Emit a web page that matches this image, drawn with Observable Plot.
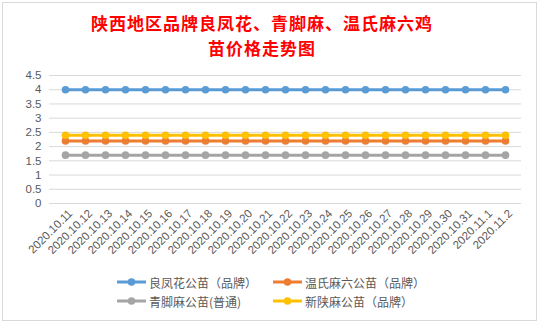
<!DOCTYPE html>
<html>
<head>
<meta charset="utf-8">
<script src="https://cdn.jsdelivr.net/npm/d3@7"></script>
<script src="https://cdn.jsdelivr.net/npm/@observablehq/plot@0.6"></script>
<style>
  html, body { margin: 0; padding: 0; background: #fff; }
  #wrap { position: relative; width: 539px; height: 323px; overflow: hidden; background: #fff; font-family: "Liberation Sans", Arial, sans-serif; }
  #frame { position: absolute; left: 2px; top: 2px; width: 533px; height: 317px; border: 1px solid #d9d9d9; box-sizing: content-box; }
  .title { position: absolute; left: 1px; width: 522px; text-align: center; color: #ff0000; font-family: "Noto Sans CJK SC", sans-serif; font-weight: bold; font-size: 17px; letter-spacing: 1px; line-height: normal; white-space: nowrap; }
  #chart { position: absolute; left: 0; top: 60px; }
  .leg { position: absolute; display: flex; align-items: center; font-family: "Noto Sans CJK SC", sans-serif; font-size: 12px; color: #595959; white-space: nowrap; }
  .leg svg { margin-right: 3px; }
</style>
</head>
<body>
<div id="wrap">
  <div id="frame"></div>
  <div class="title" style="top:10px">陕西地区品牌良凤花、青脚麻、温氏麻六鸡</div>
  <div class="title" style="top:35px">苗价格走势图</div>
  <div id="chart"></div>
  <div id="legend"></div>
</div>
<script>
const dates = ["2020.10.11","2020.10.12","2020.10.13","2020.10.14","2020.10.15","2020.10.16","2020.10.17","2020.10.18","2020.10.19","2020.10.20","2020.10.21","2020.10.22","2020.10.23","2020.10.24","2020.10.25","2020.10.26","2020.10.27","2020.10.28","2020.10.29","2020.10.30","2020.10.31","2020.11.1","2020.11.2"];
const seriesNames = ["良凤花公苗（品牌）","温氏麻六公苗（品牌）","青脚麻公苗(普通)","新陕麻公苗（品牌）"];
const seriesColors = ["#5b9bd5","#ed7d31","#a5a5a5","#ffc000"];
const liangfenghua = [4,4,4,4,4,4,4,4,4,4,4,4,4,4,4,4,4,4,4,4,4,4,4];
const wenshimaliu = [2.2,2.2,2.2,2.2,2.2,2.2,2.2,2.2,2.2,2.2,2.2,2.2,2.2,2.2,2.2,2.2,2.2,2.2,2.2,2.2,2.2,2.2,2.2];
const qingjiaoma = [1.7,1.7,1.7,1.7,1.7,1.7,1.7,1.7,1.7,1.7,1.7,1.7,1.7,1.7,1.7,1.7,1.7,1.7,1.7,1.7,1.7,1.7,1.7];
const xinshanma = [2.4,2.4,2.4,2.4,2.4,2.4,2.4,2.4,2.4,2.4,2.4,2.4,2.4,2.4,2.4,2.4,2.4,2.4,2.4,2.4,2.4,2.4,2.4];
const yTicks = [0,0.5,1,1.5,2,2.5,3,3.5,4,4.5];

const allValues = [liangfenghua, wenshimaliu, qingjiaoma, xinshanma];
const data = [];
allValues.forEach((vals, si) => vals.forEach((v, i) => data.push({date: dates[i], value: v, series: seriesNames[si]})));

const marks = [
  Plot.gridY(yTicks, {stroke: "#d9d9d9", strokeOpacity: 1, strokeWidth: 1}),
  Plot.axisY(yTicks, {tickSize: 0, tickPadding: 8, tickFormat: d => String(d), fill: "#595959", fontSize: 11.5, fontFamily: "Liberation Sans, Arial, sans-serif"}),
  Plot.axisX({tickSize: 0, tickRotate: -45, tickPadding: 8, fill: "#595959", fontSize: 11.5, fontFamily: "Liberation Sans, Arial, sans-serif", textAnchor: "end", dx: 5, dy: 0})
];
seriesNames.forEach((name, si) => {
  const d = data.filter(r => r.series === name);
  marks.push(Plot.line(d, {x: "date", y: "value", stroke: seriesColors[si], strokeWidth: 3}));
  marks.push(Plot.dot(d, {x: "date", y: "value", fill: seriesColors[si], r: 3.8}));
});

const chart = Plot.plot({
  width: 539,
  height: 200,
  marginLeft: 49,
  marginRight: 18,
  marginTop: 15,
  marginBottom: 57,
  style: {background: "transparent", overflow: "visible"},
  x: {type: "point", domain: dates, padding: 0.5, label: null},
  y: {domain: [0, 4.5], label: null},
  marks
});
document.getElementById("chart").appendChild(chart);

// legend
const legPos = [[117, 282], [273, 282], [117, 301], [273, 301]];
const legend = document.getElementById("legend");
seriesNames.forEach((name, si) => {
  const div = document.createElement("div");
  div.className = "leg";
  div.style.left = legPos[si][0] + "px";
  div.style.top = (legPos[si][1] - 9) + "px";
  div.style.height = "18px";
  div.innerHTML = `<svg width="29" height="10"><line x1="0" x2="29" y1="5" y2="5" stroke="${seriesColors[si]}" stroke-width="3"/><circle cx="14.5" cy="5" r="3.8" fill="${seriesColors[si]}"/></svg><span>${name}</span>`;
  legend.appendChild(div);
});
</script>
</body>
</html>
